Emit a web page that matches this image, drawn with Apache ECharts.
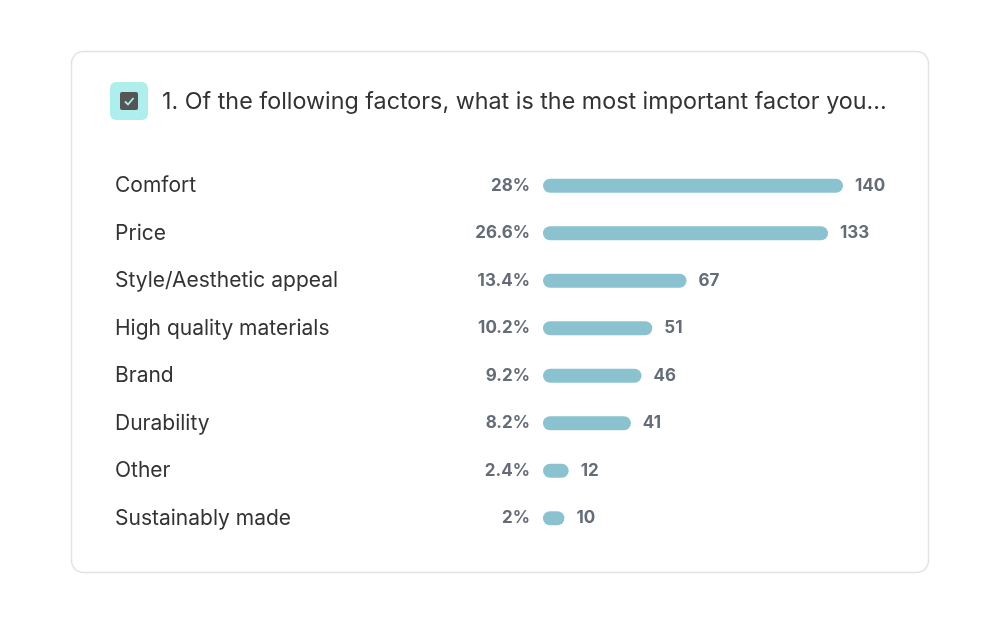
<!DOCTYPE html>
<html><head><meta charset="utf-8">
<script src="https://cdn.jsdelivr.net/npm/echarts@6/dist/echarts.min.js"></script>
<style>html,body{margin:0;padding:0;background:#fff}#c{width:1000px;height:623px}</style>
</head><body><div id="c"></div>
<script>
const titleText = '1. Of the following factors, what is the most important factor you...';
const categories = ['Comfort','Price','Style/Aesthetic appeal','High quality materials','Brand','Durability','Other','Sustainably made'];
const counts = [140,133,67,51,46,41,12,10];
const percents = ['28%','26.6%','13.4%','10.2%','9.2%','8.2%','2.4%','2%'];

const FONT = 'Inter, "Open Sans", sans-serif';
const chart = echarts.init(document.getElementById('c'));
chart.setOption({
  animation:false,
  backgroundColor:'#fff',
  graphic:[
    {type:'rect',shape:{x:71.5,y:51.5,width:857,height:521,r:12},style:{fill:'#fff',stroke:'#e3e3e3',lineWidth:1.5},z:-10},
    {type:'rect',shape:{x:110,y:82,width:38,height:38,r:6},style:{fill:'#aeeeed'}},
    {type:'rect',shape:{x:120,y:92,width:18,height:18,r:2},style:{fill:'#555'}},
    {type:'polyline',shape:{points:[[125,101.5],[128,104.5],[133.5,98]]},style:{stroke:'#aeeeed',lineWidth:1.8,fill:null}}
  ],
  title:{text:titleText,left:162,top:90,padding:0,textStyle:{fontFamily:FONT,fontSize:23.3,fontWeight:'normal',color:'#333'}},
  grid:{left:543,top:162,width:300,height:380,containLabel:false},
  xAxis:{type:'value',min:0,max:140,show:false},
  yAxis:[
    {type:'category',data:categories,inverse:true,axisLine:{show:false},axisTick:{show:false},
     axisLabel:{align:'left',margin:428,fontFamily:FONT,fontSize:21,color:'#333',padding:[0,0,6,0]}},
    {type:'category',data:percents,inverse:true,position:'left',axisLine:{show:false},axisTick:{show:false},
     axisLabel:{margin:13,fontFamily:FONT,fontSize:17,fontWeight:'bold',color:'#646c78'}}
  ],
  series:[{type:'bar',data:counts,barWidth:14,yAxisIndex:0,
    itemStyle:{color:'#8bc2cf',borderRadius:7},
    label:{show:true,position:'right',distance:12,fontFamily:FONT,fontSize:17,fontWeight:'bold',color:'#646c78'}}]
});
</script></body></html>
